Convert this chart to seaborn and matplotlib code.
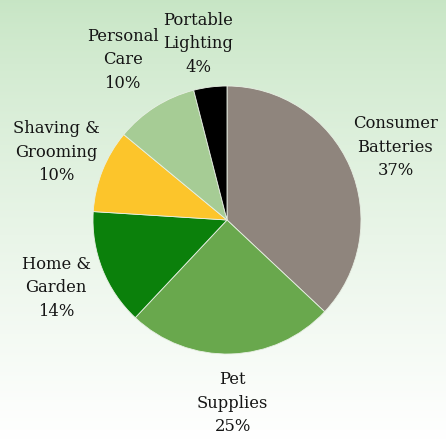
import numpy as np
import matplotlib
matplotlib.use("Agg")
import matplotlib.pyplot as plt
import seaborn as sns

# Segment shares, clockwise from 12 o'clock
categories = ["Consumer\nBatteries", "Pet\nSupplies", "Home &\nGarden",
              "Shaving &\nGrooming", "Personal\nCare", "Portable\nLighting"]
shares = [37, 25, 14, 10, 10, 4]
colors = ["#8f857d", "#69a84d", "#0b800b", "#fcc52b", "#a6cc95", "#000000"]

sns.set_style("white")
plt.rcParams["font.family"] = ["DejaVu Serif"]

W, H = 446, 440
fig = plt.figure(figsize=(W / 100, H / 100), dpi=100)

# light green -> white vertical gradient background
bg = fig.add_axes([0, 0, 1, 1], zorder=0)
t = np.linspace(0, 1, 256) ** 0.8
top = np.array([0.78, 0.90, 0.77])
grad = top[None, :] * (1 - t[:, None]) + np.ones(3)[None, :] * t[:, None]
bg.imshow(grad[:, None, :], aspect="auto", extent=[0, 1, 0, 1])
bg.axis("off")

ax = fig.add_axes([0, 0, 1, 1], zorder=1)
ax.axis("off")
ax.patch.set_alpha(0)

labels = [f"{c}\n{s}%" for c, s in zip(categories, shares)]
wedges, texts = ax.pie(shares, labels=labels, colors=colors, startangle=90,
                       counterclock=False, center=(227, 220), radius=134,
                       labeldistance=1.37,
                       wedgeprops={"linewidth": 0.6, "edgecolor": "#e8f0e4"},
                       textprops={"ha": "center", "va": "center",
                                  "multialignment": "center", "fontsize": 11.8,
                                  "color": "#151515", "linespacing": 1.5})
# the two small top labels are nudged to match the original layout
x4, y4 = texts[4].get_position()
texts[4].set_position((x4 - 6, y4 + 5))
x5, y5 = texts[5].get_position()
texts[5].set_position((x5 - 6, y5 - 6))

ax.set_xlim(0, W)
ax.set_ylim(0, H)
ax.set_aspect("auto")

fig.savefig("out.png", dpi=100)
plt.close(fig)
